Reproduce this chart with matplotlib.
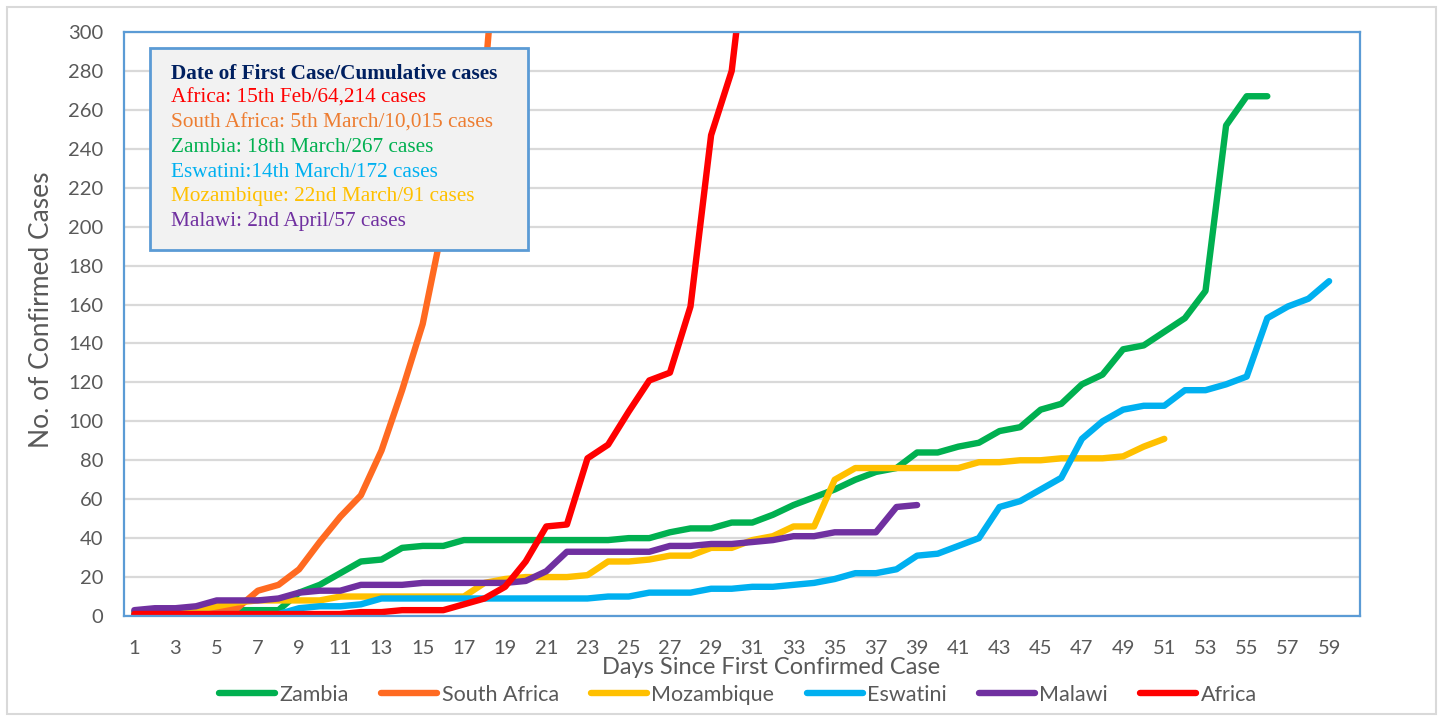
import matplotlib.pyplot as plt
from matplotlib.patches import Rectangle
from matplotlib.lines import Line2D

# dados (dias desde o primeiro caso confirmado)
zambia = [2, 2, 2, 2, 3, 3, 3, 3, 12, 16, 22, 28, 29, 35, 36, 36, 39, 39, 39, 39,
          39, 39, 39, 39, 40, 40, 43, 45, 45, 48, 48, 52, 57, 61, 65, 70, 74, 76, 84, 84,
          87, 89, 95, 97, 106, 109, 119, 124, 137, 139, 146, 153, 167, 252, 267, 267]
south_africa = [1, 1, 1, 2, 3, 4, 13, 16, 24, 38, 51, 62, 85, 116, 150, 202, 240, 274, 402]
mozambique = [1, 1, 1, 3, 5, 7, 8, 8, 8, 8, 10, 10, 10, 10, 10, 10, 10, 17, 19, 20,
              20, 20, 21, 28, 28, 29, 31, 31, 35, 35, 39, 41, 46, 46, 70, 76, 76, 76, 76, 76,
              76, 79, 79, 80, 80, 81, 81, 81, 82, 87, 91]
eswatini = [1, 1, 1, 1, 1, 1, 1, 1, 4, 5, 5, 6, 9, 9, 9, 9, 9, 9, 9, 9,
            9, 9, 9, 10, 10, 12, 12, 12, 14, 14, 15, 15, 16, 17, 19, 22, 22, 24, 31, 32,
            36, 40, 56, 59, 65, 71, 91, 100, 106, 108, 108, 116, 116, 119, 123, 153, 159, 163, 172]
malawi = [3, 4, 4, 5, 8, 8, 8, 9, 12, 13, 13, 16, 16, 16, 17, 17, 17, 17, 17, 18,
          23, 33, 33, 33, 33, 33, 36, 36, 37, 37, 38, 39, 41, 41, 43, 43, 43, 56, 57]
africa = [1, 1, 1, 1, 1, 1, 1, 1, 1, 1, 1, 2, 2, 3, 3, 3, 6, 9, 15, 28,
          46, 47, 81, 88, 105, 121, 125, 159, 247, 280, 370]

series = [("Zambia", zambia, "#00B050"),
          ("South Africa", south_africa, "#FF6A21"),
          ("Mozambique", mozambique, "#FFC000"),
          ("Eswatini", eswatini, "#00B0F0"),
          ("Malawi", malawi, "#7030A0"),
          ("Africa", africa, "#FF0000")]

caixa_titulo = "Date of First Case/Cumulative cases"
caixa_linhas = [("Africa: 15th Feb/64,214 cases", "#FF0000"),
                ("South Africa: 5th March/10,015 cases", "#ED7D31"),
                ("Zambia: 18th March/267 cases", "#00B050"),
                ("Eswatini:14th March/172 cases", "#00B0F0"),
                ("Mozambique: 22nd March/91 cases", "#FFC000"),
                ("Malawi: 2nd April/57 cases", "#7030A0")]

plt.rcParams['font.family'] = ['Lato', 'DejaVu Sans']

W, H = 1438, 717
fig = plt.figure(figsize=(W / 100, H / 100), dpi=100)
L, R, T, B = 124, 1360, 32, 616
ax = fig.add_axes([L / W, 1 - B / H, (R - L) / W, (B - T) / H])

# moldura externa cinza
fig.patches.append(Rectangle((7 / W, 3 / H), 1429 / W, 707 / H, transform=fig.transFigure,
                             fill=False, edgecolor="#D9D9D9", lw=1.5))

for nome, vals, cor in series:
    dias = list(range(1, len(vals) + 1))
    ax.plot(dias, vals, color=cor, lw=4.6, label=nome,
            solid_capstyle='round', solid_joinstyle='round')

ax.set_xlim(0.5, 60.5)
ax.set_ylim(0, 300)
ax.set_yticks(range(0, 301, 20))
ax.set_xticks(range(1, 60, 2))
ax.grid(axis='y', color="#D9D9D9", lw=1.6)
ax.set_axisbelow(True)
for s in ax.spines.values():
    s.set_color("#5B9BD5")
    s.set_linewidth(1.6)
ax.tick_params(length=0, labelsize=14.5, labelcolor="#595959")
ax.tick_params(axis='y', pad=15)
ax.tick_params(axis='x', pad=17)

fig.text(771 / W, 1 - 667 / H, "Days Since First Confirmed Case", ha='center', va='center',
         fontsize=17, color="#595959")
fig.text(42 / W, 1 - 310 / H, "No. of Confirmed Cases", ha='center', va='center',
         rotation=90, fontsize=19, color="#595959")

# caixa de informações
def ax_xy(px, py):
    return (px - L) / (R - L), (B - py) / (B - T)

x0, y0 = ax_xy(150, 250)
x1, y1 = ax_xy(528, 48)
ax.add_patch(Rectangle((x0, y0), x1 - x0, y1 - y0, transform=ax.transAxes,
                       facecolor="#F2F2F2", edgecolor="#5B9BD5", lw=2, zorder=10))
tx, ty = ax_xy(171, 74)
ax.text(tx, ty, caixa_titulo, transform=ax.transAxes, fontsize=15.3, fontweight='bold',
        color="#002060", family='Liberation Serif', va='center', zorder=11)
for i, (txt, cor) in enumerate(caixa_linhas):
    _, yy = ax_xy(171, 98.5 + i * 24.6)
    ax.text(tx, yy, txt, transform=ax.transAxes, fontsize=15.3, color=cor,
            family='Liberation Serif', va='center', zorder=11)

handles = [Line2D([], [], color=c, lw=4.6, solid_capstyle='round') for _, _, c in series]
leg = fig.legend(handles, [n for n, _, _ in series], loc='center', ncol=6,
                 bbox_to_anchor=(738 / W, 1 - 695 / H), frameon=False, fontsize=15.5,
                 handlelength=2.6, handletextpad=0.2, columnspacing=1.5)
for t in leg.get_texts():
    t.set_color("#595959")

fig.savefig("out.png", dpi=100, facecolor="white")
